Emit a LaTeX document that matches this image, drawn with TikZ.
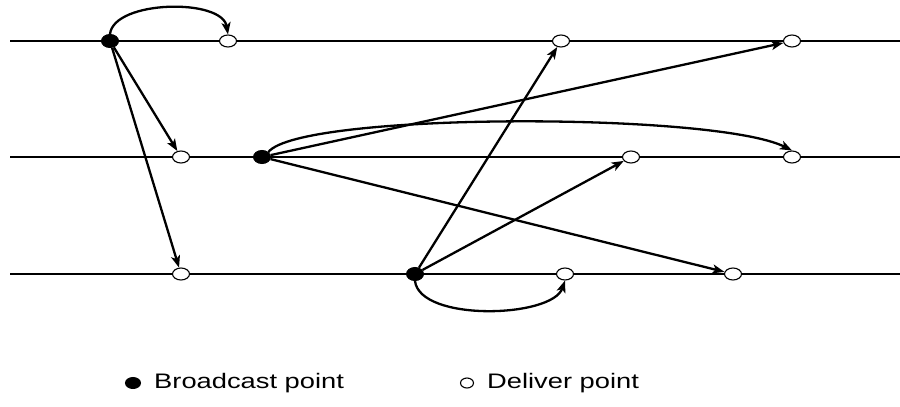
\documentclass[tikz,border=0pt]{standalone}
\usepackage{fontspec}
\setmainfont{Liberation Sans}
\usepackage{graphicx}
\usetikzlibrary{shapes.geometric,arrows.meta}
\begin{document}
\begin{tikzpicture}[x=1pt,y=-1pt,
  bpt/.style={ellipse,draw,fill=black,minimum width=17pt,minimum height=13pt,inner sep=0pt,line width=1pt},
  dpt/.style={ellipse,draw,fill=white,minimum width=17pt,minimum height=12pt,inner sep=0pt,line width=1.1pt},
  axis/.style={line width=1.3pt},
  msg/.style={line width=2.3pt,-{Stealth[length=12pt,width=9pt,inset=3pt]}},
  lbl/.style={anchor=west,inner sep=0pt,font=\fontsize{21}{21}\selectfont}]
\useasboundingbox (0,0) rectangle (900,407);
% process lines
\coordinate (l1a) at (10,41); \coordinate (l1b) at (900,41);
\coordinate (l2a) at (10,157); \coordinate (l2b) at (900,157);
\coordinate (l3a) at (10,274); \coordinate (l3b) at (900,274);
\draw[axis] (l1a) -- (l1b);
\draw[axis] (l2a) -- (l2b);
\draw[axis] (l3a) -- (l3b);
% points
\node[bpt] (b1) at (110,41) {};
\node[dpt] (d11) at (228,41) {};
\node[dpt] (d12) at (561,41) {};
\node[dpt] (d13) at (792,41) {};
\node[dpt] (d21) at (181,157) {};
\node[bpt] (b2) at (262,157) {};
\node[dpt] (d22) at (631,157) {};
\node[dpt] (d23) at (792,157) {};
\node[dpt] (d31) at (181,274) {};
\node[bpt] (b3) at (415,274) {};
\node[dpt] (d32) at (565,274) {};
\node[dpt] (d33) at (733,274) {};
% messages from b1
\draw[msg] (b1.north) .. controls (114,0) and (222,-2) .. (d11.north);
\draw[msg] (b1) -- (d21);
\draw[msg] (b1) -- (d31);
% messages from b2
\draw[msg] (b2.north east) .. controls (300,112) and (715,112) .. (d23.north);
\draw[msg] (b2) -- (d13);
\draw[msg] (b2) -- (d33);
% messages from b3
\draw[msg] (b3) -- (d12);
\draw[msg] (b3) -- (d22);
\draw[msg] (b3.south) .. controls (420,322) and (552,318) .. (d32.south);
% legend
\node[bpt,minimum width=15pt,minimum height=11pt] (lb) at (133,383) {};
\node[lbl] (lbt) at (154,383) {\scalebox{1.3}[1]{Broadcast point}};
\node[dpt,minimum width=13pt,minimum height=10pt] (ld) at (467,383) {};
\node[lbl] (ldt) at (487,383) {\scalebox{1.3}[1]{Deliver point}};
\end{tikzpicture}
\end{document}
